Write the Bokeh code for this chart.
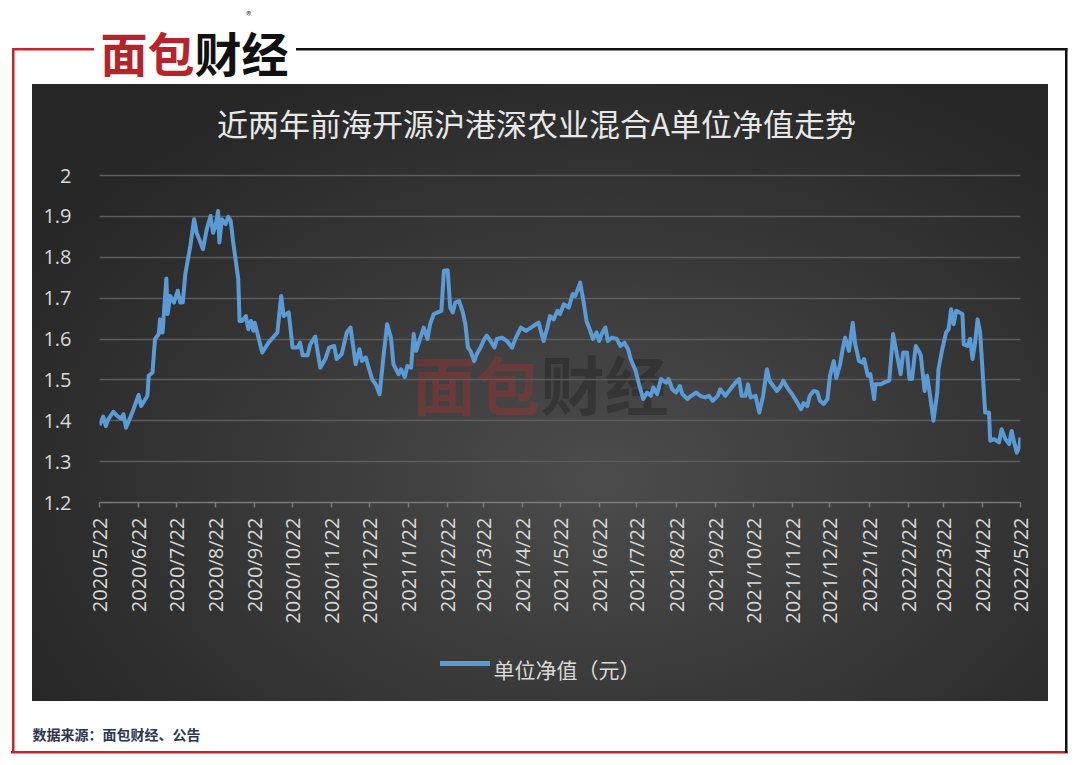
import math
import pandas as pd
from bokeh.plotting import figure
from bokeh.models import Range1d, FixedTicker, Label, Title
from bokeh.embed import file_html
from bokeh.resources import INLINE

# ---------------- data ----------------
START_DATE = "2020/5/22"
title_text = "近两年前海开源沪港深农业混合A单位净值走势"
series_name = "单位净值（元）"
source_text = "数据来源：面包财经、公告"
logo_red, logo_black = "面包", "财经"

x_tick_labels = [
    "2020/5/22", "2020/6/22", "2020/7/22", "2020/8/22", "2020/9/22", "2020/10/22",
    "2020/11/22", "2020/12/22", "2021/1/22", "2021/2/22", "2021/3/22", "2021/4/22",
    "2021/5/22", "2021/6/22", "2021/7/22", "2021/8/22", "2021/9/22", "2021/10/22",
    "2021/11/22", "2021/12/22", "2022/1/22", "2022/2/22", "2022/3/22", "2022/4/22",
    "2022/5/22",
]
y_ticks = [1.2, 1.3, 1.4, 1.5, 1.6, 1.7, 1.8, 1.9, 2.0]
y_tick_labels = ["1.2", "1.3", "1.4", "1.5", "1.6", "1.7", "1.8", "1.9", "2"]

# days since START_DATE
day_offsets = [
    0, 3, 5, 7, 11, 14, 17, 19, 21, 26, 31, 33, 38, 39, 42, 44, 47, 48, 50, 53,
    54, 56, 59, 62, 64, 66, 68, 72, 75, 77, 82, 85, 88, 90, 92, 94, 95, 97, 100, 102,
    104, 106, 110, 111, 113, 116, 118, 120, 122, 123, 129, 134, 141, 144, 146, 150, 153, 157, 159, 161,
    165, 167, 171, 173, 175, 179, 182, 186, 188, 192, 196, 199, 203, 206, 208, 211, 213, 216, 219, 222,
    225, 228, 231, 233, 237, 239, 242, 244, 247, 249, 251, 254, 257, 260, 262, 265, 268, 271, 273, 276,
    278, 280, 282, 285, 288, 290, 292, 294, 297, 299, 302, 305, 307, 310, 313, 315, 319, 323, 327, 330,
    334, 338, 342, 346, 348, 352, 355, 357, 360, 363, 365, 368, 372, 375, 377, 381, 384, 386, 389, 391,
    394, 396, 398, 401, 403, 406, 410, 413, 416, 419, 421, 425, 428, 431, 434, 437, 439, 442, 445, 449,
    451, 454, 457, 460, 462, 466, 469, 473, 476, 480, 483, 486, 490, 492, 496, 500, 504, 507, 509, 512,
    514, 516, 520, 523, 526, 529, 531, 534, 537, 540, 542, 546, 549, 553, 556, 558, 561, 563, 566, 569,
    571, 574, 577, 579, 582, 584, 587, 589, 591, 594, 595, 597, 599, 602, 605, 606, 609, 611, 614, 615,
    619, 623, 626, 629, 632, 635, 637, 640, 642, 644, 647, 650, 651, 654, 656, 658, 661, 664, 665, 668,
    671, 673, 675, 677, 679, 684, 685, 688, 690, 692, 694, 696, 698, 702, 705, 706, 709, 713, 715, 718,
    721, 723, 725, 727, 729, 730,
]
nav_values = [
    1.389, 1.410, 1.387, 1.404, 1.422, 1.412, 1.405, 1.416, 1.383, 1.420, 1.463, 1.436, 1.461, 1.510, 1.518, 1.600, 1.612, 1.648, 1.616, 1.748,
    1.661, 1.705, 1.689, 1.718, 1.689, 1.689, 1.758, 1.828, 1.893, 1.860, 1.820, 1.868, 1.901, 1.860, 1.877, 1.913, 1.836, 1.893, 1.881, 1.899,
    1.889, 1.836, 1.746, 1.644, 1.644, 1.656, 1.624, 1.644, 1.620, 1.640, 1.567, 1.591, 1.616, 1.705, 1.656, 1.665, 1.579, 1.579, 1.591, 1.560,
    1.560, 1.587, 1.606, 1.567, 1.530, 1.551, 1.579, 1.583, 1.551, 1.563, 1.616, 1.628, 1.538, 1.575, 1.546, 1.555, 1.534, 1.502, 1.489, 1.465,
    1.555, 1.636, 1.603, 1.538, 1.514, 1.526, 1.507, 1.534, 1.530, 1.612, 1.571, 1.600, 1.628, 1.600, 1.636, 1.661, 1.665, 1.669, 1.767, 1.768,
    1.677, 1.665, 1.689, 1.693, 1.665, 1.636, 1.579, 1.571, 1.546, 1.563, 1.579, 1.600, 1.608, 1.595, 1.579, 1.600, 1.603, 1.595, 1.579, 1.603,
    1.628, 1.620, 1.628, 1.636, 1.640, 1.595, 1.628, 1.656, 1.648, 1.669, 1.661, 1.685, 1.677, 1.710, 1.705, 1.738, 1.685, 1.644, 1.620, 1.600,
    1.616, 1.595, 1.612, 1.628, 1.595, 1.603, 1.600, 1.583, 1.591, 1.575, 1.551, 1.522, 1.485, 1.453, 1.469, 1.461, 1.481, 1.465, 1.502, 1.493,
    1.502, 1.477, 1.469, 1.485, 1.465, 1.453, 1.461, 1.469, 1.461, 1.457, 1.461, 1.449, 1.461, 1.477, 1.461, 1.477, 1.493, 1.502, 1.461, 1.461,
    1.489, 1.457, 1.461, 1.420, 1.461, 1.526, 1.498, 1.485, 1.473, 1.485, 1.498, 1.477, 1.465, 1.445, 1.428, 1.443, 1.436, 1.461, 1.473, 1.470,
    1.449, 1.441, 1.453, 1.510, 1.546, 1.505, 1.538, 1.575, 1.603, 1.571, 1.591, 1.640, 1.587, 1.546, 1.542, 1.551, 1.510, 1.514, 1.453, 1.489,
    1.489, 1.495, 1.498, 1.612, 1.563, 1.514, 1.567, 1.567, 1.502, 1.502, 1.583, 1.567, 1.559, 1.473, 1.510, 1.469, 1.400, 1.469, 1.526, 1.575,
    1.616, 1.624, 1.673, 1.636, 1.669, 1.661, 1.587, 1.583, 1.600, 1.551, 1.591, 1.648, 1.616, 1.420, 1.420, 1.351, 1.355, 1.347, 1.379, 1.355,
    1.343, 1.375, 1.347, 1.322, 1.335, 1.359,
]

# ---------------- derived ticks ----------------
start = pd.to_datetime(START_DATE, format="%Y/%m/%d")
x_tick_pos = [int((pd.to_datetime(s, format="%Y/%m/%d") - start).days) for s in x_tick_labels]

# ---------------- layout (page pixels; the figure sits at the page origin) ----------------
W, H = 1072, 760
FRAME_LEFT, FRAME_RIGHT, FRAME_TOP, FRAME_BOTTOM = 99, 1020, 0, 502
Y_TOP_TICK_PX = 175                 # where the top tick (2.0) sits on the page
px_per_unit = (FRAME_BOTTOM - Y_TOP_TICK_PX) / (y_ticks[-1] - y_ticks[0])
y_end = y_ticks[0] + (FRAME_BOTTOM - FRAME_TOP) / px_per_unit

p = figure(
    frame_width=FRAME_RIGHT - FRAME_LEFT, frame_height=FRAME_BOTTOM - FRAME_TOP,
    x_range=Range1d(x_tick_pos[0], x_tick_pos[-1]),
    y_range=Range1d(y_ticks[0], y_end),
    output_backend="svg", toolbar_location=None,
    min_border_left=FRAME_LEFT, min_border_right=W - FRAME_RIGHT,
    min_border_top=FRAME_TOP, min_border_bottom=H - FRAME_BOTTOM,
)
p.title_location = None
p.border_fill_color = None
p.background_fill_color = None
p.outline_line_color = None

RED, BLACK, BLUE = "#c4262c", "#111111", "#5b9bd5"
LOGO_X = 100                        # page x of the logo's left edge
LOGO_FS = 47
LEGEND_Y = 663                      # vertical centre of the legend row
LEGEND_TEXT_X = 493


def css_bar(x0, y0, x1, y1, color):
    return f"linear-gradient({color}, {color}) {x0}px {y0}px / {x1 - x0}px {y1 - y0}px no-repeat"


p.styles = {
    "background": ", ".join([
        css_bar(12, 48, LOGO_X - 6, 50.5, RED),
        css_bar(LOGO_X + 4 * LOGO_FS + 8, 48, 1067.5, 50.5, BLACK),
        css_bar(12, 48, 14.5, 753, RED),
        css_bar(1065, 48, 1067.5, 753, BLACK),
        css_bar(11, 750.5, 1067.5, 753, RED),
        css_bar(LEGEND_TEXT_X - 53, LEGEND_Y - 2.5, LEGEND_TEXT_X - 3, LEGEND_Y + 2.5, BLUE),
        "radial-gradient(ellipse 64% 72% at 56% 64%, #4c4c4c 0%, #3b3b3b 45%, #272727 100%) "
        "32px 84px / 1016px 617px no-repeat",
        "white",
    ]),
}


def add_label(x, y, text, size, color, align="left", style="normal", alpha=1.0, level="annotation"):
    p.add_layout(Label(
        x=x - FRAME_LEFT, y=FRAME_BOTTOM - y, x_units="screen", y_units="screen",
        text=text, text_font="Noto Sans CJK SC", text_font_size=f"{size}px", text_font_style=style,
        text_color=color, text_alpha=alpha, text_align=align, text_baseline="middle", level=level,
    ))


# logo, title, watermark (inside the plotting area)
add_label(LOGO_X, 51, logo_red, LOGO_FS, "#b5242a", style="bold")
add_label(LOGO_X + 2 * LOGO_FS, 51, logo_black, LOGO_FS, BLACK, style="bold")
add_label(LOGO_X + 148, 14, "®", 10, "#333333", align="center")
add_label(536, 122, title_text, 31, "#e8e8e8", align="center")
add_label(540, 381, logo_red, 64, "#b03030", align="right", style="bold", alpha=0.36, level="image")
add_label(540, 381, logo_black, 64, "#151515", style="bold", alpha=0.33, level="image")

# ---------------- the series ----------------
r = p.line(day_offsets, nav_values, line_color=BLUE, line_width=4, line_join="round")

# axes
xa = p.xaxis[0]
xa.ticker = FixedTicker(ticks=x_tick_pos)
xa.major_label_overrides = {t: s for t, s in zip(x_tick_pos, x_tick_labels)}
xa.major_label_orientation = math.pi / 2
xa.major_label_text_font = "Open Sans"
xa.major_label_text_font_size = "20px"
xa.major_label_text_color = "#d9d9d9"
xa.major_label_standoff = 10
xa.axis_line_color = "#7a7a7a"
xa.axis_line_width = 1.5
xa.major_tick_line_color = "#7a7a7a"
xa.major_tick_line_width = 1.5
xa.major_tick_out = 5
xa.major_tick_in = 0
xa.minor_tick_line_color = None

ya = p.yaxis[0]
ya.ticker = FixedTicker(ticks=y_ticks)
ya.major_label_overrides = {t: s for t, s in zip(y_ticks, y_tick_labels)}
ya.major_label_text_font = "Open Sans"
ya.major_label_text_font_size = "20px"
ya.major_label_text_color = "#d9d9d9"
ya.major_label_standoff = 22
ya.axis_line_color = None
ya.major_tick_line_color = None
ya.minor_tick_line_color = None

p.xgrid.grid_line_color = None
p.ygrid[0].ticker = FixedTicker(ticks=y_ticks)
p.ygrid.grid_line_color = "#5c5c5c"
p.ygrid.grid_line_width = 1.5

# series key under the axis labels (text; its line sample is painted in the panel background)
key = Title(text=series_name, align="left", offset=LEGEND_TEXT_X - FRAME_LEFT, standoff=53,
            vertical_align="middle", text_font="Noto Sans CJK SC", text_font_size="21px",
            text_font_style="normal", text_color="#d9d9d9")
p.add_layout(key, "below")

# data source line under the panel
src = Title(text=source_text, align="left", offset=32 - FRAME_LEFT, standoff=22,
            vertical_align="middle", text_font="Noto Sans CJK SC", text_font_size="14px",
            text_font_style="bold", text_color="#2a3550")
p.add_layout(src, "below")

open("out.html", "w").write(file_html(p, INLINE))
